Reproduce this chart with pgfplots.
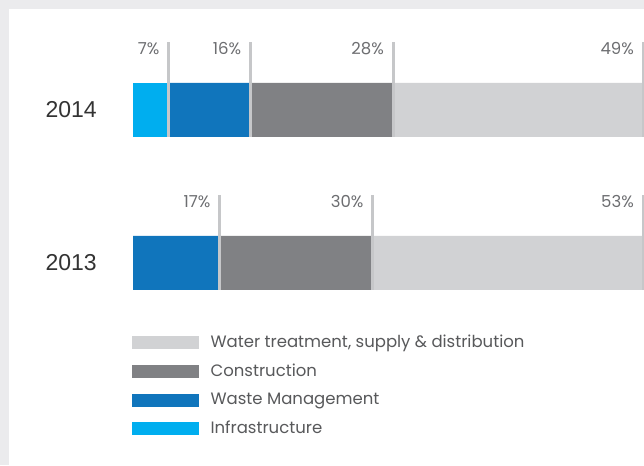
\documentclass[border=0pt]{standalone}
\usepackage{pgfplots}
\pgfplotsset{compat=1.18}
\usepackage{fontspec}
\setmainfont{Poppins}
\newfontfamily\yearfont{Liberation Sans}
\definecolor{bggray}{HTML}{EBEBED}
\definecolor{cinfra}{HTML}{00AEEF}
\definecolor{cwaste}{HTML}{1075BC}
\definecolor{cconst}{HTML}{808184}
\definecolor{cwater}{HTML}{D1D2D4}
\definecolor{csep}{HTML}{C6C7C9}
\definecolor{clabel}{HTML}{6D6E71}
\definecolor{clegend}{HTML}{58595B}
\definecolor{cyear}{HTML}{333333}
\pgfplotsset{base/.style={width=644pt,height=465pt,scale only axis,
  xmin=-26.0784,xmax=100.196,ymin=0,ymax=465,hide axis,
  at={(0pt,0pt)},anchor=south west}}
\begin{document}
\begin{tikzpicture}
\useasboundingbox (0,0) rectangle (644pt,465pt);
\fill[bggray] (0,0) rectangle (644pt,465pt);
\fill[white] (9pt,0) rectangle (644pt,456pt);
\begin{axis}[base, xbar stacked, bar width=54]
\addplot[fill=cinfra, draw=none] coordinates {(7,355) (0,202)};
\addplot[fill=cwaste, draw=none] coordinates {(16,355) (17,202)};
\addplot[fill=cconst, draw=none] coordinates {(28,355) (30,202)};
\addplot[fill=cwater, draw=none] coordinates {(49,355) (53,202)};
\end{axis}
\begin{axis}[base,
  legend cell align=left,
  legend style={at={(axis cs:-0.196,130)}, anchor=north west, draw=none, fill=none,
    inner sep=0pt, row sep=15pt, column sep=12pt,
    font=\fontsize{16.5}{19}\selectfont, text=clegend,
    nodes={inner sep=0pt}}]
\addlegendimage{legend image code/.code={\fill[cwater] (0pt,-6pt) rectangle (66pt,6pt);}}
\addlegendimage{legend image code/.code={\fill[cconst] (0pt,-6pt) rectangle (66pt,6pt);}}
\addlegendimage{legend image code/.code={\fill[cwaste] (0pt,-6pt) rectangle (66pt,6pt);}}
\addlegendimage{legend image code/.code={\fill[cinfra] (0pt,-6pt) rectangle (66pt,6pt);}}
\legend{{Water treatment, supply \& distribution},Construction,Waste Management,Infrastructure}
\addplot[csep, line width=3pt, forget plot, unbounded coords=jump] coordinates {
  (7,328) (7,423) (nan,nan) (23,328) (23,423) (nan,nan)
  (51,328) (51,423) (nan,nan) (100,328) (100,423) (nan,nan)
  (17,175) (17,270) (nan,nan) (47,175) (47,270) (nan,nan)
  (100,175) (100,270)};
\addplot[draw=none, forget plot, nodes near coords, point meta=explicit symbolic,
  nodes near coords style={anchor=base east, xshift=-9pt, inner sep=0pt,
    font=\fontsize{16.5}{19}\selectfont, text=clabel}]
  coordinates {(7,410) [7\%] (23,410) [16\%] (51,410) [28\%] (100,410) [49\%]
    (17,257) [17\%] (47,257) [30\%] (100,257) [53\%]};
\end{axis}
\node[anchor=base east, inner sep=0pt, text=cyear, font=\yearfont\fontsize{23}{27}\selectfont] at (97pt,347pt) {2014};
\node[anchor=base east, inner sep=0pt, text=cyear, font=\yearfont\fontsize{23}{27}\selectfont] at (97pt,194pt) {2013};
\end{tikzpicture}
\end{document}
